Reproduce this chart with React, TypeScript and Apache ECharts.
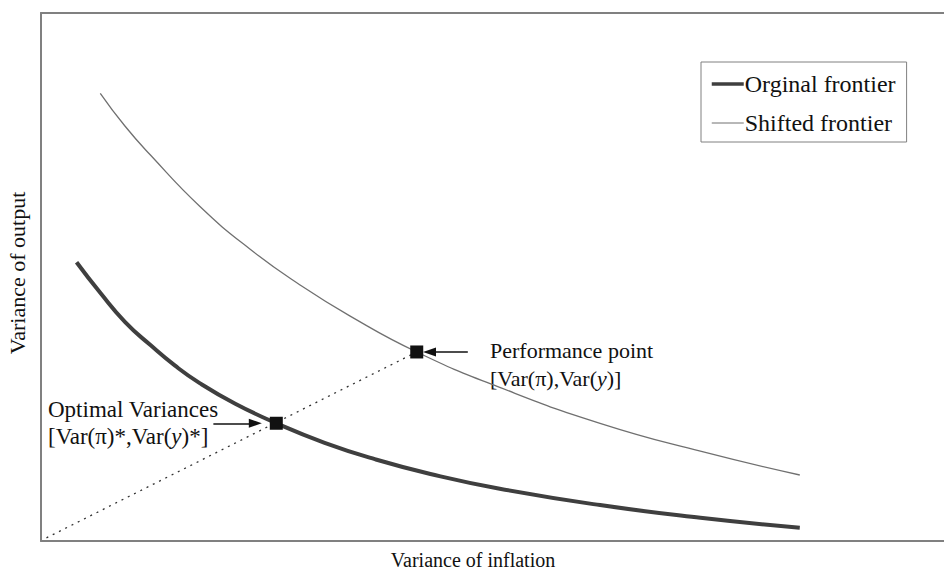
import React, { useEffect, useRef } from "react";
import * as echarts from "echarts";

// Values in arbitrary variance units (x: variance of inflation, y: variance of output), 0–100 scale
const originalX = [3.9, 6.5, 9.2, 12.0, 14.7, 17.4, 21.3, 25.8, 31.1, 36.6, 42.7, 50.3, 61.3, 72.3, 83.2];
const originalY = [52.8, 47.0, 41.5, 37.1, 33.2, 29.9, 26.0, 22.3, 18.6, 15.5, 12.7, 9.9, 6.8, 4.4, 2.5];

const shiftedX = [6.5, 9.2, 12.0, 17.4, 22.9, 28.4, 33.9, 41.2, 50.3, 61.3, 72.3, 83.2];
const shiftedY = [84.8, 78.6, 73.1, 63.4, 55.3, 48.5, 42.6, 35.8, 29.1, 22.3, 17.0, 12.5];

const optimalPoint = [25.8, 22.3];
const performancePoint = [41.2, 35.8];
const rayOrigin = [0.6, 0.6];

const seriesNames = ["Orginal frontier", "Shifted frontier"];
const xTitle = "Variance of inflation";
const yTitle = "Variance of output";

const FONT = "'Liberation Serif', 'Times New Roman', serif";
const FRAME = { show: true, onZero: false, lineStyle: { color: "#808080", width: 2 } };

export default function App() {
  const ref = useRef<HTMLDivElement>(null);

  useEffect(() => {
    if (!ref.current) return;
    const chart = echarts.init(ref.current, undefined, { renderer: "svg" });

    const original = originalX.map((x, i) => [x, originalY[i]]);
    const shifted = shiftedX.map((x, i) => [x, shiftedY[i]]);

    const hiddenParts = {
      axisTick: { show: false },
      axisLabel: { show: false },
      splitLine: { show: false },
    };

    chart.setOption({
      animation: false,
      backgroundColor: "#ffffff",
      textStyle: { fontFamily: FONT },
      grid: {
        left: 41,
        top: 13,
        width: 912,
        height: 528,
        outerBoundsMode: "none",
        containLabel: false,
        show: false,
      },
      xAxis: [
        { type: "value", min: 0, max: 100, position: "bottom", axisLine: FRAME, ...hiddenParts },
        { type: "value", min: 0, max: 100, position: "top", axisLine: FRAME, ...hiddenParts },
      ],
      yAxis: {
        type: "value",
        min: 0,
        max: 100,
        position: "left",
        axisLine: FRAME,
        ...hiddenParts,
      },
      legend: {
        data: [
          { name: seriesNames[0], lineStyle: { width: 3.5, color: "#3f3f3f" } },
          { name: seriesNames[1], lineStyle: { width: 1, color: "#707070" } },
        ],
        orient: "vertical",
        left: 701,
        top: 62,
        padding: [10, 11, 7, 9],
        itemGap: 15,
        itemWidth: 32,
        itemHeight: 14,
        borderColor: "#808080",
        borderWidth: 1,
        backgroundColor: "#ffffff",
        itemStyle: { opacity: 0 },
        lineStyle: { width: "inherit" },
        textStyle: {
          fontFamily: FONT,
          fontSize: 24,
          lineHeight: 24,
          color: "#111111",
          padding: [0, 0, 0, -4],
        },
      },
      series: [
        {
          name: seriesNames[0],
          type: "line",
          data: original,
          smooth: true,
          showSymbol: false,
          symbol: "none",
          lineStyle: { color: "#3f3f3f", width: 4 },
          itemStyle: { color: "#3f3f3f" },
          z: 3,
        },
        {
          name: seriesNames[1],
          type: "line",
          data: shifted,
          smooth: true,
          showSymbol: false,
          symbol: "none",
          lineStyle: { color: "#707070", width: 1.3 },
          itemStyle: { color: "#707070" },
          z: 3,
        },
        {
          name: "ray",
          type: "line",
          data: [rayOrigin, performancePoint],
          symbol: "none",
          lineStyle: { color: "#333333", width: 1.3, type: [2, 5] },
          z: 2,
          markLine: {
            silent: true,
            symbol: ["none", "triangle"],
            symbolSize: [9, 13],
            label: { show: false },
            lineStyle: { color: "#111111", width: 1.5, type: "solid" },
            data: [
              [
                { coord: [46.8, performancePoint[1]] },
                { coord: [42.6, performancePoint[1]] },
              ],
              [
                { coord: [18.9, optimalPoint[1]] },
                { coord: [23.5, optimalPoint[1]] },
              ],
            ],
          },
        },
        {
          name: "points",
          type: "scatter",
          data: [optimalPoint, performancePoint],
          symbol: "rect",
          symbolSize: 13,
          itemStyle: { color: "#111111", opacity: 1 },
          z: 5,
        },
      ],
      graphic: [
        {
          type: "text",
          x: 473,
          y: 560,
          style: {
            text: xTitle,
            fontFamily: FONT,
            fontSize: 20,
            fill: "#111111",
            align: "center",
            verticalAlign: "middle",
          },
        },
        {
          type: "text",
          x: 17,
          y: 273,
          rotation: Math.PI / 2,
          style: {
            text: yTitle,
            fontFamily: FONT,
            fontSize: 22,
            fill: "#111111",
            align: "center",
            verticalAlign: "middle",
          },
        },
        {
          type: "text",
          x: 490,
          y: 336,
          style: {
            text: "Performance point\n[Var(π),Var({i|y})]",
            fontFamily: FONT,
            fontSize: 22,
            lineHeight: 28,
            fill: "#111111",
            rich: {
              i: { fontStyle: "italic", fontFamily: FONT, fontSize: 22, fill: "#111111" },
            },
          },
        },
        {
          type: "text",
          x: 48,
          y: 396,
          style: {
            text: "Optimal Variances\n[Var(π)*,Var({i|y})*]",
            fontFamily: FONT,
            fontSize: 23,
            lineHeight: 27,
            fill: "#111111",
            rich: {
              i: { fontStyle: "italic", fontFamily: FONT, fontSize: 23, fill: "#111111" },
            },
          },
        },
      ],
    });

    return () => {
      chart.dispose();
    };
  }, []);

  return <div ref={ref} style={{ width: 944, height: 575, position: "absolute", left: 0, top: 0 }} />;
}
